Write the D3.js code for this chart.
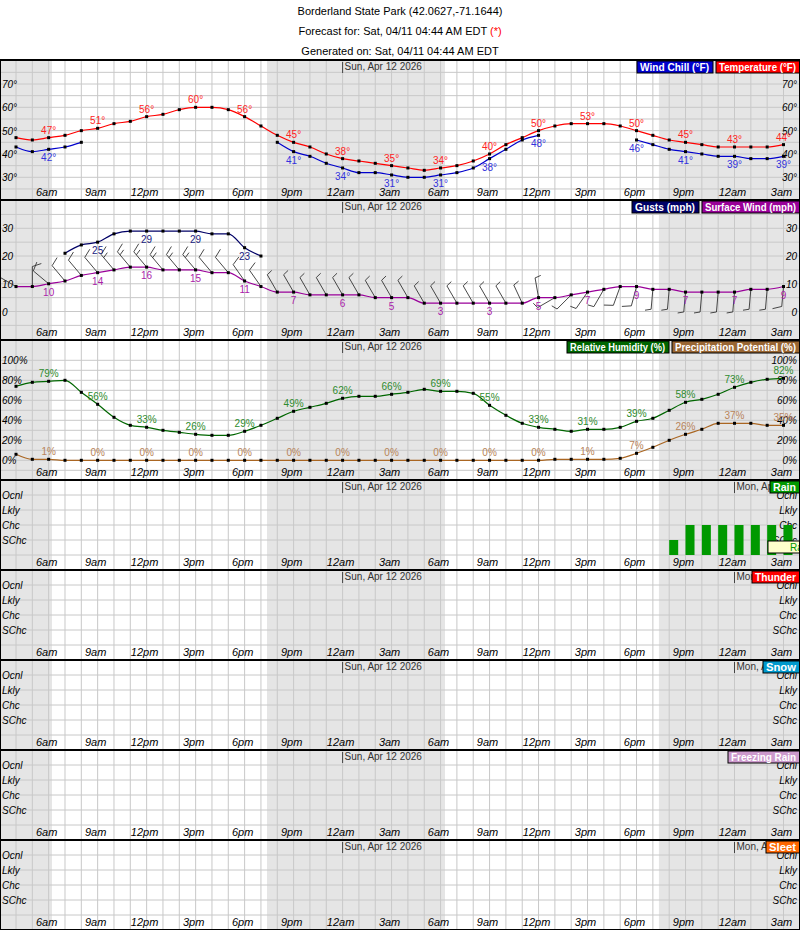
<!DOCTYPE html>
<html>
<head>
<meta charset="utf-8">
<script src="https://cdn.jsdelivr.net/npm/d3@7"></script>
<style>
body { margin: 0; background: #fff; }
text { font-family: "Liberation Sans", Arial, sans-serif; }
</style>
</head>
<body>
<svg id="canvas"></svg>
<script>
//--data, one value per hour starting Sat 4am
let timeLabels = ["6am", "9am", "12pm", "3pm", "6pm", "9pm", "12am", "3am"];
let temperature = [47,46,47,48,50,51,53,54,56,57,59,60,60,59,56,52,48,45,43,40,38,37,36,35,34,33,34,35,37,40,44,47,50,52,53,53,53,52,50,48,46,45,44,43,43,43,43,44];
let windChill = [43,41,42,43,45,null,null,null,null,null,null,null,null,null,null,null,45,41,39,36,34,32,32,31,30,30,31,32,34,38,42,46,48,null,null,null,null,null,46,44,42,41,40,39,39,38,38,39];
let surfaceWind = [9,9,10,11,13,14,15,16,16,15,15,15,14,14,11,9,7,7,6,6,6,6,5,5,5,3,3,3,3,3,3,3,5,5,6,7,8,9,9,8,8,7,7,7,7,8,8,9];
let gusts = [null,null,null,21,24,25,28,29,29,29,29,29,28,28,23,20,null,null,null,null,null,null,null,null,null,null,null,null,null,null,null,null,null,null,null,null,null,null,null,null,null,null,null,null,null,null,null,null];
let windDir = [300,0,310,320,320,320,320,320,320,320,320,320,320,320,325,325,330,330,330,330,330,330,330,330,330,330,330,330,330,330,330,335,350,240,225,215,210,200,195,185,185,185,185,185,185,185,185,185];
let humidity = [74,78,79,80,68,56,43,35,33,30,28,26,25,25,29,35,42,49,53,57,62,64,64,66,68,71,69,69,67,55,45,37,33,31,29,31,31,33,39,42,50,58,61,66,73,78,81,82];
let precipPot = [6,1,1,0,0,0,0,0,0,0,0,0,0,0,0,0,0,0,0,0,0,0,0,0,0,0,0,0,0,0,0,0,0,1,1,1,1,2,7,13,20,26,31,37,37,37,35,35];
// 0 none, 1 SChc, 2 Chc, 3 Lkly, 4 Ocnl
let rainLevel = [0,0,0,0,0,0,0,0,0,0,0,0,0,0,0,0,0,0,0,0,0,0,0,0,0,0,0,0,0,0,0,0,0,0,0,0,0,0,0,0,1,2,2,2,2,2,2,2];
let nights = [[-1, 2.2], [15.37, 26.27], [39.37, 49]];
let dayMarks = [[20, "Sun, Apr 12 2026"], [44, "Mon, Apr 13 2026"]];
let levelNames = ["Ocnl", "Lkly", "Chc", "SChc"];
//--

let width = 800, height = 930;
let svg = d3.select("#canvas").attr("width", width).attr("height", height);
let hours = d3.range(48);
let x = d3.scaleLinear().domain([0, 47]).range([16, 783.5]);

//--header
let head = svg.append("g").attr("font-size", 11).attr("text-anchor", "middle").attr("fill", "#000");
head.append("text").attr("x", 400).attr("y", 15).text("Borderland State Park (42.0627,-71.1644)");
let f = head.append("text").attr("x", 400).attr("y", 35).text("Forecast for: Sat, 04/11 04:44 AM EDT ");
f.append("tspan").attr("fill", "red").text("(*)");
head.append("text").attr("x", 400).attr("y", 55).text("Generated on: Sat, 04/11 04:44 AM EDT");

//--common panel frame
let drawPanel = (top, h, ys, legends) => {
    let g = svg.append("g");
    g.append("rect").attr("x", 0).attr("y", top).attr("width", width).attr("height", h).attr("fill", "#fff");
    nights.forEach(n => {
        g.append("rect").attr("x", x(n[0])).attr("y", top).attr("width", x(n[1]) - x(n[0])).attr("height", h).attr("fill", "#e5e5e5");
    });
    g.selectAll(".vg").data(hours).enter().append("line")
        .attr("x1", d => x(d)).attr("x2", d => x(d)).attr("y1", top).attr("y2", top + h)
        .attr("stroke", "#c8c8c8").attr("stroke-width", 1);
    g.selectAll(".hg").data(ys).enter().append("line")
        .attr("x1", 0).attr("x2", width).attr("y1", d => d).attr("y2", d => d)
        .attr("stroke", "#c8c8c8").attr("stroke-width", 1);
    g.selectAll(".tl").data(d3.range(2, 48, 3)).enter().append("text")
        .attr("x", d => x(d) - 2).attr("y", top + h - 4).attr("text-anchor", "middle")
        .attr("font-size", 11).attr("font-style", "italic").attr("fill", "#000")
        .text((d, i) => timeLabels[i % 8]);
    dayMarks.forEach(m => {
        g.append("line").attr("x1", x(m[0])).attr("x2", x(m[0])).attr("y1", top + 2).attr("y2", top + 13).attr("stroke", "#444");
        g.append("text").attr("x", x(m[0]) + 2).attr("y", top + 10).attr("font-size", 10).attr("fill", "#333").text(m[1]);
    });
    let lx = width;
    legends.slice().reverse().forEach(l => {
        lx -= l[2];
        g.append("rect").attr("x", lx).attr("y", top + 1).attr("width", l[2]).attr("height", 12)
            .attr("fill", l[1]).attr("stroke", "#000").attr("stroke-width", 1);
        g.append("text").attr("x", lx + 3).attr("y", top + 11)
            .attr("font-size", 10).attr("font-weight", "bold").attr("fill", "#fff")
            .attr("textLength", l[2] - 7).attr("lengthAdjust", "spacingAndGlyphs").text(l[0]);
        lx -= 3;
    });
    return g;
};

let axisText = (g, vals, y, fmt) => {
    vals.forEach(v => {
        g.append("text").attr("x", 2).attr("y", y(v) + 4).attr("font-size", 10).attr("font-style", "italic").attr("fill", "#000").text(fmt(v));
        g.append("text").attr("x", 797).attr("y", y(v) + 4).attr("text-anchor", "end").attr("font-size", 10).attr("font-style", "italic").attr("fill", "#000").text(fmt(v));
    });
};

let series = (g, data, y, color, labelColor, above, fmt) => {
    let line = d3.line().defined(d => d != null).x((d, i) => x(i)).y(d => y(d)).curve(d3.curveMonotoneX);
    g.append("path").attr("d", line(data)).attr("fill", "none").attr("stroke", color).attr("stroke-width", 1.2);
    let pts = data.map((d, i) => [i, d]).filter(p => p[1] != null);
    g.selectAll(null).data(pts).enter().append("rect")
        .attr("x", p => x(p[0]) - 1.5).attr("y", p => y(p[1]) - 1.5).attr("width", 3).attr("height", 3).attr("fill", "#000");
    g.selectAll(null).data(pts.filter(p => (p[0] - 2) % 3 === 0)).enter().append("text")
        .attr("x", p => x(p[0])).attr("y", p => y(p[1]) + (above ? -4 : 12)).attr("text-anchor", "middle")
        .attr("font-size", 10).attr("fill", labelColor).text(p => fmt(p[1]));
};

//--temperature
let yT = d3.scaleLinear().domain([30, 70]).range([177.3, 84]);
let gT = drawPanel(60, 140, d3.range(25, 80, 5).map(yT), [["Wind Chill (°F)", "#0000cc", 76], ["Temperature (°F)", "#ff0000", 84]]);
axisText(gT, [30, 40, 50, 60, 70], yT, v => v + "°");
series(gT, windChill, yT, "#0000cc", "#3333dd", false, v => v + "°");
series(gT, temperature, yT, "#ff0000", "#ff2222", true, v => v + "°");

//--wind
let yW = d3.scaleLinear().domain([0, 30]).range([311.5, 228.3]);
let gW = drawPanel(200, 140, d3.range(-5, 40, 5).map(yW).filter(v => v > 214), [["Gusts (mph)", "#000066", 67], ["Surface Wind (mph)", "#990099", 98]]);
axisText(gW, [0, 10, 20, 30], yW, v => v);
// wind barbs
hours.forEach(i => {
    let th = windDir[i] * Math.PI / 180;
    let dx = Math.sin(th), dy = -Math.cos(th);
    let px = -dy, py = dx;
    let bx = x(i), by = yW(surfaceWind[i]);
    let L = 20;
    let tx = bx + dx * L, ty = by + dy * L;
    let p = d3.path();
    p.moveTo(bx, by); p.lineTo(tx, ty);
    let kt = Math.round(surfaceWind[i] * 0.87 / 5) * 5;
    let pos = 0;
    while (kt >= 10) {
        let sx = tx - dx * pos, sy = ty - dy * pos;
        p.moveTo(sx, sy); p.lineTo(sx + px * 9 + dx * 3, sy + py * 9 + dy * 3);
        kt -= 10; pos += 4;
    }
    if (kt >= 5) {
        let sx = tx - dx * pos, sy = ty - dy * pos;
        p.moveTo(sx, sy); p.lineTo(sx + px * 6 + dx * 1.5, sy + py * 6 + dy * 1.5);
    }
    gW.append("path").attr("d", p.toString()).attr("fill", "none").attr("stroke", "#333").attr("stroke-width", 0.9);
});
series(gW, gusts, yW, "#000066", "#1a1a80", false, v => v);
series(gW, surfaceWind, yW, "#990099", "#aa22aa", false, v => v);

//--humidity
let yH = d3.scaleLinear().domain([0, 100]).range([460.3, 360.3]);
let gH = drawPanel(340, 140, d3.range(-10, 120, 10).map(yH).filter(v => v > 354 && v < 476), [["Relative Humidity (%)", "#006600", 102], ["Precipitation Potential (%)", "#996633", 128]]);
axisText(gH, [0, 20, 40, 60, 80, 100], yH, v => v + "%");
series(gH, precipPot, yH, "#aa6622", "#b8845a", true, v => v + "%");
series(gH, humidity, yH, "#006600", "#2e8b2e", true, v => v + "%");

//--chance panels
let chancePanel = (top, name, color, w) => {
    let g = drawPanel(top, 90, [15, 30, 45, 60, 75].map(d => top + d), [[name, color, w]]);
    levelNames.forEach((n, i) => {
        let y = top + 15 * (i + 1) + 4;
        g.append("text").attr("x", 2).attr("y", y).attr("font-size", 10).attr("font-style", "italic").attr("fill", "#000").text(n);
        g.insert("text", "rect:last-of-type").attr("x", 797).attr("y", y).attr("text-anchor", "end").attr("font-size", 10).attr("font-style", "italic").attr("fill", "#000").text(n);
    });
    return g;
};
let gR = chancePanel(480, "Rain", "#009900", 30);
let yR = d3.scaleLinear().domain([0, 4]).range([555, 495]);
gR.selectAll(null).data(rainLevel.map((d, i) => [i, d]).filter(p => p[1] > 0)).enter().append("rect")
    .attr("x", p => x(p[0])).attr("y", p => yR(p[1])).attr("width", 9).attr("height", p => yR(0) - yR(p[1]))
    .attr("fill", "#009900");
gR.append("rect").attr("x", 768).attr("y", 541).attr("width", 40).attr("height", 12).attr("fill", "#ffffcc").attr("stroke", "#000");
gR.append("text").attr("x", 790).attr("y", 551).attr("font-size", 10).attr("fill", "#009900").text("Rain");
chancePanel(570, "Thunder", "#ff0000", 48);
chancePanel(660, "Snow", "#0099cc", 37);
chancePanel(750, "Freezing Rain", "#cc99cc", 72);
chancePanel(840, "Sleet", "#ff6600", 34);

//--panel borders
[60, 200, 340, 480, 570, 660, 750, 840].forEach(t => {
    svg.append("line").attr("x1", 0).attr("x2", width).attr("y1", t).attr("y2", t).attr("stroke", "#000").attr("stroke-width", 2);
});
svg.append("rect").attr("x", 0.5).attr("y", 60).attr("width", width - 1).attr("height", 869.5).attr("fill", "none").attr("stroke", "#000").attr("stroke-width", 1);
</script>
</body>
</html>
